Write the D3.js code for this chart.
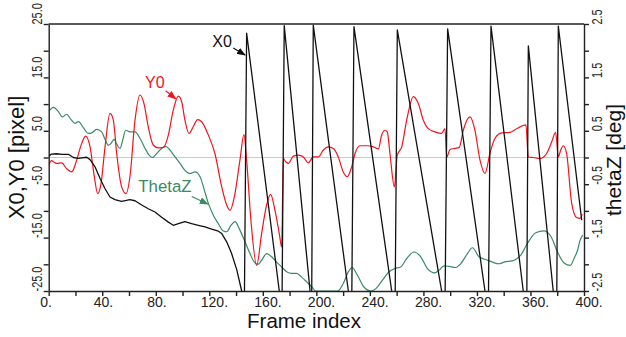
<!doctype html>
<meta charset="utf-8">

<style>
 body { margin: 0; background: #fff; }
 svg text { font-family: "Liberation Sans", Arial, sans-serif; }
 .lines path { fill: none; stroke-linejoin: round; }
</style>

<svg width="626" height="337"></svg>

<script src="https://d3js.org/d3.v7.min.js"></script>
<script>
 // Data: [frame, value]
 var x0 = [
   [0, 0.2], [2, 0.65], [6, 0.7], [10, 0.6], [14.7, 0.6], [18.4, 0.0], [22, -0.15], [28.4, 0.05],
   [30.9, -0.4], [34.6, -1.75], [38.3, -3.9], [42, -5.8], [45.8, -7.4], [49.5, -7.9], [54.5, -8.2],
   [60.7, -7.9], [64.5, -8.1], [69.5, -8.9], [74.4, -9.6], [79.4, -10.2], [84.4, -11.2], [89.4, -12.1],
   [93.1, -12.7], [96.9, -12.4], [101.8, -12.0], [106.8, -12.4], [111.8, -12.7], [116.8, -13.0],
   [121.8, -13.4], [126.8, -13.8], [129.3, -14.25], [133, -15.8], [136.7, -18], [140.5, -21],
   [144.2, -25], [146.2, -28],
   [147.9, 23.3], [172.3, -25], [174.3, -29],
   [176, 24.7], [195.3, -25], [196.5, -27],
   [197.7, 24.8], [223.9, -25], [226.4, -29],
   [228.1, 24.5], [256.3, -25], [258.8, -29],
   [260.5, 23.9], [293.6, -25], [296.1, -29],
   [298.1, 24.1], [326, -25], [328.5, -29],
   [330.5, 24.6], [354.6, -25], [357.2, -29],
   [358.4, 20.9], [377, -25], [379.6, -29],
   [380.8, 24.6], [398.3, -11.75]
 ];

 var y0 = [
   [0, -1.4], [2.2, -0.6], [4, -0.9], [6, -1.1], [9.7, -1.0], [13.4, -2.1], [17.2, -2.7], [20.9, -0.5],
   [24.6, 2.6], [27.6, 4.0], [30.9, 2.0], [34.1, -3.6], [36.6, -6.75], [39.1, -4.9], [42.1, 2.0],
   [45.8, 8.25], [48.3, 7.0], [50.8, 0.75], [54.5, -5.5], [57.8, -6.75], [60.7, -3.6], [64.5, 7.0],
   [68.2, 11.7], [71.2, 10.1], [74.4, 5.75], [78.2, 2.3], [81.9, 1.8], [85.7, 1.9], [89.4, 4.2],
   [93.1, 8.9], [96.9, 11.5], [99.4, 10.4], [101.8, 7.0], [104.8, 4.5], [108, 5.75], [111.3, 7.1],
   [114.3, 6.7], [119.3, 4.2], [124.2, 0.75], [129.3, -5.5], [133, -8.9], [135.5, -9.9], [138.7, -7.4],
   [142.9, -0.5], [145.9, 4.3], [147.9, -0.5], [151.1, -11.75], [155.4, -20.2], [159.1, -14.25],
   [162.8, -8.9], [165.8, -6.9], [169.1, -9.9], [172.3, -14.25], [174.1, -16.75], [175.3, -0.2],
   [177.1, -0.8], [179.1, -1.1], [182.8, 0.25], [186.5, 0.45], [190.3, 0.1], [194, -1.0], [197.7, 0.1],
   [201.5, 0.1], [205.2, 1.4], [208.9, 2.0], [212.7, 1.7], [216.4, 0.1], [220.1, -2.7], [223.1, -3.6],
   [226.4, -1.75], [228.9, 0.75], [232.6, 2.2], [237.6, 2.2], [242.6, 2.0], [246.3, 1.6], [248.8, 4.2],
   [251.3, 5.1], [253, 4.8], [255, 0.75], [258.3, -5.5], [260.5, 0.45], [263.8, 2.0], [267.5, 7.0],
   [272.5, 11.4], [276.2, 10.1], [279.9, 7.0], [283.6, 5.4], [288.6, 4.8], [293.6, 4.5], [296.1, 5.4],
   [297.4, 0.1], [299.9, 1.5], [303.6, 1.7], [306.8, 1.9], [309.8, 5.1], [314.8, 7.6], [318.5, 5.1],
   [322.3, -0.5], [326, -3.0], [329.7, 0.75], [333.5, 3.6], [338.5, 4.6], [344.7, 4.7], [349.7, 5.4],
   [356.6, 6.1], [358.4, 0.1], [362.1, 0], [367.1, -0.2], [372.1, 0.75], [375.8, 2.9], [378.8, 4.7],
   [380.8, 0.1], [382.6, 1.4], [384.5, 2.2], [387, 0.75], [390.8, -8.6], [394.5, -11.25], [397, -11.4],
   [398.7, -10.6]
 ];

 // thetaZ in degrees
 var thetaZ = [
   [0, 0.86], [3.5, 0.94], [7.2, 0.86], [10.2, 0.76], [13.4, 0.81], [16.7, 0.71], [19.7, 0.64],
   [22.1, 0.67], [25.9, 0.56], [29.6, 0.45], [32.1, 0.46], [35.8, 0.525], [39.6, 0.48], [42.1, 0.34],
   [44.6, 0.23], [46.5, 0.26], [48.8, 0.34], [50.8, 0.25], [53.3, 0.17], [55.3, 0.325], [57.5, 0.51],
   [60.7, 0.48], [64.5, 0.48], [68.2, 0.36], [72, 0.17], [75, 0.045], [77.4, 0], [80.7, 0.075],
   [84.4, 0.17], [87.4, 0.21], [90.6, 0.14], [94.4, 0.01], [98.1, -0.11], [101.8, -0.24], [105.6, -0.30],
   [109.3, -0.27], [113.1, -0.36], [116.3, -0.61], [119.3, -0.86], [123, -1.08], [126.8, -1.24],
   [130.5, -1.375], [133, -1.39], [136.2, -1.27], [139.2, -1.2], [142.9, -1.36], [146.7, -1.58],
   [150.4, -1.8], [153.7, -1.96], [156.4, -2.0], [159.1, -1.925], [162.8, -1.8], [166.6, -1.86],
   [170.3, -1.96], [174.1, -2.05], [177.8, -2.14], [181.6, -2.17], [185.3, -2.17], [189, -2.24],
   [192.8, -2.33], [196.5, -2.42], [199.5, -2.5], [205, -2.5], [210, -2.5], [216, -2.5], [220.1, -2.36],
   [223.9, -2.14], [226.8, -2.06], [230.6, -2.2], [235.6, -2.425], [240.6, -2.5], [244.3, -2.46],
   [249.3, -2.3], [254.3, -2.14], [258.5, -2.08], [263, -2.05], [268, -1.875], [273, -1.77], [278, -1.86],
   [283, -2.08], [288.5, -2.16], [291.7, -2.11], [295.4, -2.03], [299.2, -2.04], [304.2, -2.06],
   [307.9, -1.99], [312.9, -1.8], [316.6, -1.69], [321.6, -1.86], [326.6, -1.91], [331.6, -1.96],
   [336.5, -1.99], [340.3, -1.96], [347.8, -1.925], [352.7, -1.83], [357.7, -1.61], [363.9, -1.41],
   [370, -1.375], [375.2, -1.475], [380.2, -1.77], [385.1, -1.975], [389.8, -2.02], [392.6, -1.89],
   [395, -1.75], [397.1, -1.55], [399, -1.45]
 ];

 var xTicks = d3.range(0, 401, 20);
 var leftTicks = d3.range(-25, 26, 5);
 var rightTicks = [-2.5, -2, -1.5, -1, -0.5, 0, 0.5, 1, 1.5, 2, 2.5];

 // labels: [text, frame, value], arrows: [frame1, value1, frame2, value2] (left-axis units)
 var notes = [
   { text: 'X0', color: '#111', at: [122.2, 20.7], arrow: [137.9, 20.5, 146.7, 19.2] },
   { text: 'Y0', color: '#f0141e', at: [72, 13.1], arrow: [87.4, 12.5, 94.9, 11.0] },
   { text: 'ThetaZ', color: '#3a8a68', at: [67, -6.55], arrow: [106.9, -7.3, 118.8, -8.7] }
 ];

 // Set up SVG
 var svg = d3.select('svg');
 var margin = { top: 24, left: 48.7, bottom: 46, right: 42 };
 var width = +svg.attr('width');
 var height = +svg.attr('height');
 var x1 = width - margin.right, y1 = height - margin.bottom;

 var x = d3.scaleLinear().domain([0, 400]).range([margin.left, x1]);
 var yL = d3.scaleLinear().domain([-25, 25]).range([y1, margin.top]);
 var yR = d3.scaleLinear().domain([-2.5, 2.5]).range([y1, margin.top]);

 svg.append('clipPath').attr('id', 'plot')
   .append('rect')
   .attr('x', margin.left).attr('y', margin.top - 1)
   .attr('width', x1 - margin.left).attr('height', y1 - margin.top + 2);

 // zero line
 svg.append('line')
   .attr('x1', margin.left).attr('x2', x1)
   .attr('y1', yL(0)).attr('y2', yL(0))
   .attr('stroke', '#cbcbcb').attr('stroke-width', 1.2);

 // Render lines
 var lineL = d3.line().x(function(d) { return x(d[0]); }).y(function(d) { return yL(d[1]); });
 var lineR = d3.line().x(function(d) { return x(d[0]); }).y(function(d) { return yR(d[1]); })
               .curve(d3.curveMonotoneX);

 var g = svg.append('g').attr('class', 'lines').attr('clip-path', 'url(#plot)');
 g.append('path').attr('d', lineR(thetaZ)).attr('stroke', '#3a8a68').attr('stroke-width', 1.2);
 g.append('path').attr('d', lineL.curve(d3.curveMonotoneX)(y0)).attr('stroke', '#f0141e').attr('stroke-width', 1.2);
 g.append('path').attr('d', lineL.curve(d3.curveLinear)(x0)).attr('stroke', '#111').attr('stroke-width', 1.3);

 // Axes
 function styleAxis(a) {
   a.attr('font-size', 14)
    .attr('font-family', '"Liberation Sans", Arial, sans-serif')
    .attr('color', '#222');
   a.selectAll('path, line').attr('stroke-width', 1.4);
 }

 var ax = svg.append('g')
   .attr('transform', 'translate(0,' + y1 + ')')
   .call(d3.axisBottom(x).tickValues(xTicks).tickSize(5).tickSizeOuter(0)
     .tickFormat(function(d) { return d % 40 === 0 ? d + '.' : ''; }))
   .call(styleAxis);
 ax.selectAll('text').attr('text-anchor', 'start').attr('x', -9).attr('y', 16).attr('dy', 0);

 var al = svg.append('g')
   .attr('transform', 'translate(' + margin.left + ',0)')
   .call(d3.axisLeft(yL).tickValues(leftTicks).tickSize(5).tickSizeOuter(0)
     .tickFormat(function(d) { return (d + 25) % 10 === 0 ? d.toFixed(1) : ''; }))
   .call(styleAxis);
 al.selectAll('text').attr('text-anchor', 'start').attr('x', 0).attr('y', 0).attr('dy', 0)
   .attr('transform', 'translate(-6.7,0) rotate(-90) scale(0.78,1)');

 var ar = svg.append('g')
   .attr('transform', 'translate(' + x1 + ',0)')
   .call(d3.axisRight(yR).tickValues(rightTicks).tickSize(5).tickSizeOuter(0)
     .tickFormat(function(d) { return Math.round(Math.abs(d) * 10) % 10 === 5 ? d.toFixed(1) : ''; }))
   .call(styleAxis);
 ar.selectAll('text').attr('text-anchor', 'start').attr('x', 0).attr('y', 0).attr('dy', 0)
   .attr('transform', 'translate(18,0) rotate(-90) scale(0.78,1)');

 // top frame
 svg.append('line')
   .attr('x1', margin.left).attr('x2', x1)
   .attr('y1', margin.top).attr('y2', margin.top)
   .attr('stroke', '#222').attr('stroke-width', 1.4);

 // Titles
 var font = '"Liberation Sans", Arial, sans-serif';
 svg.append('text').text('Frame index')
   .attr('x', 304).attr('y', 328).attr('text-anchor', 'middle')
   .attr('font-size', 20.5).attr('font-family', font).attr('fill', '#111');
 svg.append('text').text('X0,Y0 [pixel]')
   .attr('transform', 'translate(24,' + yL(0) + ') rotate(-90)').attr('text-anchor', 'middle')
   .attr('font-size', 22).attr('font-family', font).attr('fill', '#111');
 svg.append('text').text('thetaZ [deg]')
   .attr('transform', 'translate(620.5,160) rotate(-90)').attr('text-anchor', 'middle')
   .attr('font-size', 21).attr('font-family', font).attr('fill', '#111');

 // Annotations
 var defs = svg.append('defs');
 notes.forEach(function(n, i) {
   defs.append('marker').attr('id', 'arrow' + i)
     .attr('markerUnits', 'userSpaceOnUse')
     .attr('markerWidth', 9).attr('markerHeight', 7)
     .attr('refX', 8).attr('refY', 3.5).attr('orient', 'auto')
     .append('path').attr('d', 'M0,0L9,3.5L0,7Z').attr('fill', n.color);

   svg.append('text').text(n.text)
     .attr('x', x(n.at[0])).attr('y', yL(n.at[1]))
     .attr('font-size', n.text === 'ThetaZ' ? 16.8 : 16).attr('font-family', font).attr('fill', n.color);

   svg.append('line')
     .attr('x1', x(n.arrow[0])).attr('y1', yL(n.arrow[1]))
     .attr('x2', x(n.arrow[2])).attr('y2', yL(n.arrow[3]))
     .attr('stroke', n.color).attr('stroke-width', 1.1)
     .attr('marker-end', 'url(#arrow' + i + ')');
 });
</script>
